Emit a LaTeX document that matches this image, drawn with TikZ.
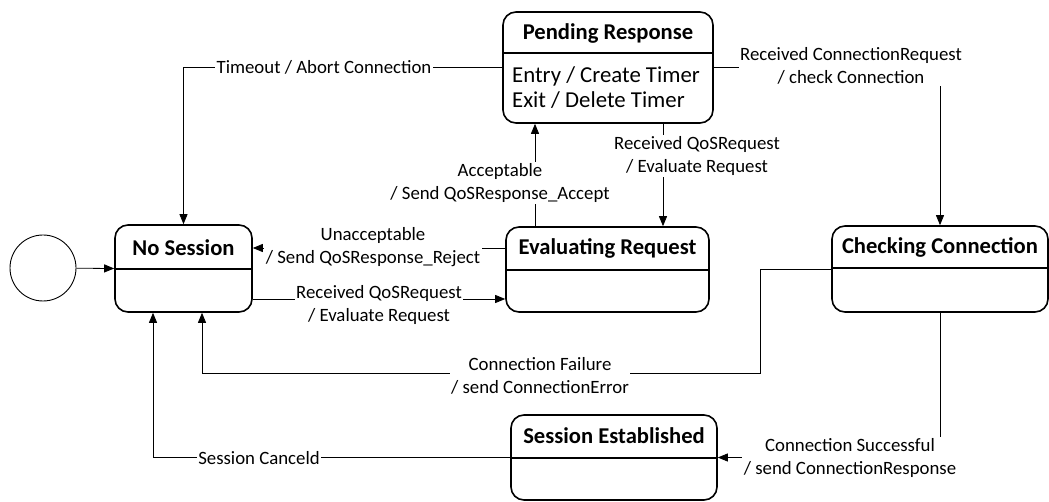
\documentclass[tikz,border=0pt]{standalone}
\usepackage{fontspec}
\setmainfont{Carlito}
\usetikzlibrary{arrows.meta,calc}

\tikzset{
  statebox/.style={draw, line width=1.6pt, rounded corners=13pt, inner sep=0pt},
  divider/.style={line width=1.2pt},
  title/.style={font=\fontsize{22.6}{26}\selectfont\bfseries, inner sep=0pt},
  body/.style={font=\fontsize{22.8}{25}\selectfont, inner sep=0pt, align=left},
  trans/.style={line width=0.8pt, -{Triangle[length=10pt,width=8pt]}},
  lbl/.style={fill=white, inner sep=1.5pt, align=center, font=\fontsize{18.8}{22.5}\selectfont},
}

\begin{document}
\begin{tikzpicture}[x=1pt,y=-1pt]
\useasboundingbox (0,0) rectangle (1049,502);

% initial pseudo-state
\node[draw, line width=0.9pt, circle, minimum size=66pt, inner sep=0pt] (init) at (43,268) {};

% states
\node[statebox, minimum width=137pt, minimum height=87pt] (NS) at (183.5,268.5) {};
\draw[divider] (NS.west |- 0,269) -- (NS.east |- 0,269);
\node[title] (NSt) at (183.5,248) {No Session};

\node[statebox, minimum width=210pt, minimum height=111pt] (PR) at (608,67.5) {};
\draw[divider] (PR.west |- 0,53) -- (PR.east |- 0,53);
\node[title] (PRt) at (608,33) {Pending Response};
\node[body, anchor=west] (PRb) at (512,88) {Entry / Create Timer\\Exit / Delete Timer};

\node[statebox, minimum width=203pt, minimum height=85pt] (ER) at (607.5,269.5) {};
\draw[divider] (ER.west |- 0,270) -- (ER.east |- 0,270);
\node[title] (ERt) at (607.5,248) {Evaluating Request};

\node[statebox, minimum width=216pt, minimum height=86pt] (CC) at (940,269) {};
\draw[divider] (CC.west |- 0,268) -- (CC.east |- 0,268);
\node[title] (CCt) at (940,247) {Checking Connection};

\node[statebox, minimum width=206pt, minimum height=85pt] (SE) at (614,457.5) {};
\draw[divider] (SE.west |- 0,458) -- (SE.east |- 0,458);
\node[title] (SEt) at (614,436) {Session Established};

% helper corner points
\coordinate (cfcorner) at (760,373);

% transitions
\draw[trans] (init) -- (NS.west);

\draw[trans] (PR.west) -| (NS.north);
\node[lbl] (l1) at (324,67) {Timeout / Abort Connection};

\draw[trans] (PR.east) -| (CC.north);
\node[lbl] (l2) at (851,66) {Received ConnectionRequest\\/ check Connection};

\draw[trans] ([xshift=55pt]PR.south) -- ([xshift=55pt]PR.south |- ER.north);
\node[lbl] (l3) at (697,156) {Received QoSRequest\\/ Evaluate Request};

\draw[trans] ([xshift=-72.5pt]ER.north) -- ([xshift=-72.5pt]ER.north |- PR.south);
\node[lbl] (l4) at (500,183) {Acceptable\\/ Send QoSResponse\_Accept};

\draw[trans] ([yshift=21.5pt]ER.west) -- ([yshift=21.5pt]ER.west -| NS.east);
\node[lbl] (l5) at (373,247) {Unacceptable\\/ Send QoSResponse\_Reject};

\draw[trans] ([yshift=-30.5pt]NS.east) -- ([yshift=-30.5pt]NS.east -| ER.west);
\node[lbl] (l6) at (379,305) {Received QoSRequest\\/ Evaluate Request};

\draw[trans] (CC.west) -| (cfcorner) -| ([xshift=18.5pt]NS.south);
\node[lbl] (l7) at (540,376) {Connection Failure\\/ send ConnectionError};

\draw[trans] (CC.south) |- (SE.east);
\node[lbl] (l8) at (850,458) {Connection Successful\\/ send ConnectionResponse};

\draw[trans] (SE.west) -| ([xshift=-30.5pt]NS.south);
\node[lbl] (l9) at (259,458) {Session Canceld};
\end{tikzpicture}
\end{document}
